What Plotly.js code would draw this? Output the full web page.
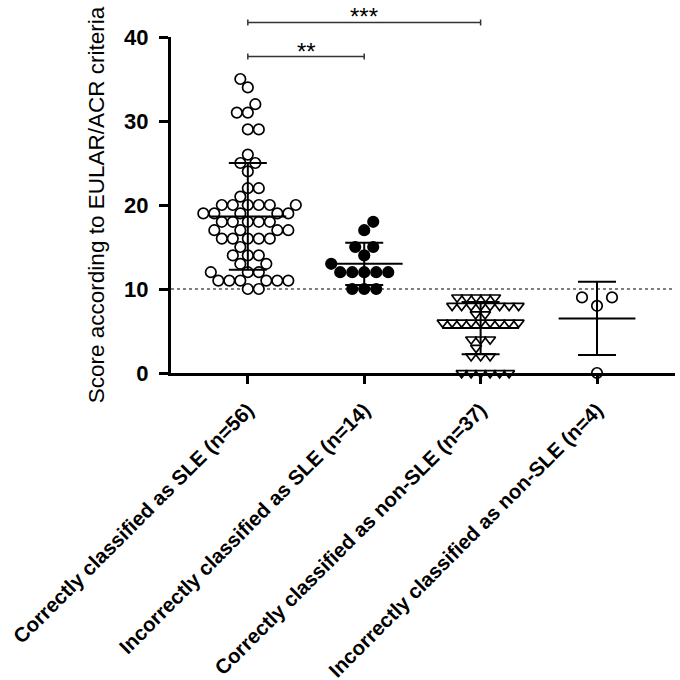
<!DOCTYPE html>
<html>
<head>
<meta charset="utf-8">
<script src="https://cdn.plot.ly/plotly-3.0.1.min.js"></script>
<style>html,body{margin:0;padding:0;background:#fff;}#chart{width:680px;height:680px;}</style>
</head>
<body>
<div id="chart"></div>
<script>
// ---- Data ----
var categories = [
  "Correctly classified as SLE (n=56)",
  "Incorrectly classified as SLE (n=14)",
  "Correctly classified as non-SLE (n=37)",
  "Incorrectly classified as non-SLE (n=4)"
];
var correctSLE = [35,34,32,31,31,29,29,26,25,25,24,22,22,21,
  20,20,20,20,20,20,19,19,19,19,19,18,18,18,18,18,17,17,17,17,
  16,16,16,16,16,15,14,14,14,13,13,12,12,12,11,11,11,11,11,11,10,10];
var incorrectSLE = [18,17,15,15,14,13,12,12,12,12,12,10,10,10];
var correctNonSLE = [9,9,9,9,9,8,8,8,8,8,8,8,8,7,7,6,6,6,6,6,6,6,6,6,
  4,4,4,3,2,2,2,0,0,0,0,0,0];
var incorrectNonSLE = [9,9,8,0];
var threshold = 10;
var yTickVals = [0,10,20,30,40];
var comparisons = [ {a:0, b:2, label:"***"}, {a:0, b:1, label:"**"} ];

// ---- Layout geometry ----
var W = 680, H = 680;
var margin = {l:171, r:5, t:37, b:307};
var xRange = [-0.66, 3.67], yRange = [0, 40];
var pxPerX = (W - margin.l - margin.r) / (xRange[1]-xRange[0]);
var pxPerY = (H - margin.t - margin.b) / (yRange[1]-yRange[0]);

function swarm(vals, center, d, pref0) {
  var sorted = vals.slice().sort(function(a,b){return a-b;});
  var placed = [], xs = [], pref = pref0;
  sorted.forEach(function(v){
    var yp = v*pxPerY, found = null;
    for (var s=0; s<300 && found===null; s+=0.5) {
      var cands = s===0 ? [0] : [s*pref, -s*pref];
      for (var c=0; c<cands.length; c++) {
        var x = cands[c];
        var ok = placed.every(function(p){ return (p.x-x)*(p.x-x)+(p.y-yp)*(p.y-yp) >= d*d; });
        if (ok) { found = x; break; }
      }
    }
    if (found !== 0) pref = -pref;
    placed.push({x:found, y:yp});
    xs.push(center + found/pxPerX);
  });
  return {x:xs, y:sorted};
}
function mean(a){ return a.reduce(function(s,v){return s+v;},0)/a.length; }
function sd(a){ var m=mean(a); return Math.sqrt(a.reduce(function(s,v){return s+(v-m)*(v-m);},0)/(a.length-1)); }

var groups = [correctSLE, incorrectSLE, correctNonSLE, incorrectNonSLE];
var styles = [
  {symbol:'circle', size:10.5, color:'white', d:11, pref:1},
  {symbol:'circle', size:10.5, color:'black', d:12, pref:-1},
  {symbol:'triangle-down', size:9.5, color:'white', d:9.5, pref:1},
  {symbol:'circle', size:10.5, color:'white', d:17, pref:1}
];

var traces = [];
groups.forEach(function(g, i){
  var st = styles[i];
  var sw = swarm(g, i, st.d, st.pref);
  traces.push({
    type:'scatter', mode:'markers', x: sw.x, y: sw.y,
    marker:{symbol:st.symbol, size:st.size, color:st.color, line:{color:'black', width:1.7}},
    cliponaxis:false, hoverinfo:'y', showlegend:false
  });
});
var means = groups.map(mean), sds = groups.map(sd);
var mx = [], my = [];
means.forEach(function(m,i){ mx.push(i-0.33, i+0.33, null); my.push(m, m, null); });
traces.push({type:'scatter', mode:'lines', x:mx, y:my, line:{color:'black', width:2}, showlegend:false, hoverinfo:'skip', cliponaxis:false});
traces.push({type:'scatter', mode:'markers', x:[0,1,2,3], y:means,
  marker:{size:1, color:'rgba(0,0,0,0)'},
  error_y:{type:'data', array:sds, visible:true, color:'black', thickness:2, width:19},
  showlegend:false, hoverinfo:'skip', cliponaxis:false});

var shapes = [{type:'line', xref:'paper', yref:'y', x0:0, x1:1, y0:threshold, y1:threshold,
  line:{color:'#555', width:1.5, dash:'dot'}, layer:'below'}];
var annotations = [];
var bracketY = [1.043, 0.942], textY = [1.061, 0.957], tk = 0.009;
comparisons.forEach(function(c, k){
  var y = bracketY[k];
  shapes.push({type:'path', xref:'x', yref:'paper',
    path:'M '+c.a+','+(y-tk)+' L '+c.a+','+(y+tk)+' M '+c.a+','+y+' L '+c.b+','+y+' M '+c.b+','+(y-tk)+' L '+c.b+','+(y+tk),
    line:{color:'#333', width:1.5}});
  annotations.push({xref:'x', yref:'paper', x:(c.a+c.b)/2, y:textY[k], text:c.label, showarrow:false,
    yanchor:'middle', font:{family:'Arial, Liberation Sans, sans-serif', size:24, color:'black'}});
});

var layout = {
  width:W, height:H, margin:margin, paper_bgcolor:'white', plot_bgcolor:'white',
  font:{family:'Arial, Liberation Sans, sans-serif', color:'black'},
  showlegend:false,
  xaxis:{range:xRange, tickvals:[0,1,2,3], ticktext:categories, tickangle:-45,
    showline:true, linecolor:'black', linewidth:3, ticks:'outside', ticklen:8, tickwidth:3, tickcolor:'black',
    showgrid:false, zeroline:false, fixedrange:true, ticklabelstandoff:6,
    tickfont:{family:'Arial, Liberation Sans, sans-serif', size:20.5, weight:'bold', color:'black'}},
  yaxis:{range:yRange, tickvals:yTickVals, showline:true, linecolor:'black', linewidth:3,
    ticks:'outside', ticklen:9, tickwidth:3, tickcolor:'black', showgrid:false, zeroline:false,
    ticklabelstandoff:6,
    tickfont:{family:'Arial, Liberation Sans, sans-serif', size:22, weight:'bold', color:'black'},
    title:{text:'Score according to EULAR/ACR criteria', standoff:14,
      font:{family:'Arial, Liberation Sans, sans-serif', size:22.5, color:'black'}}},
  shapes:shapes, annotations:annotations
};
Plotly.newPlot('chart', traces, layout, {displayModeBar:false, staticPlot:true});
</script>
</body>
</html>
